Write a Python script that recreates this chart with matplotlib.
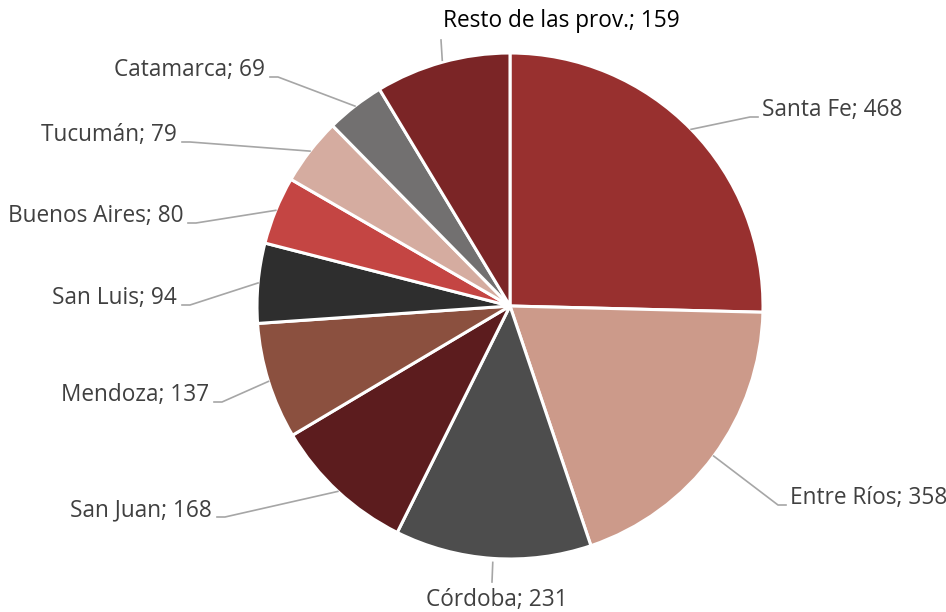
import matplotlib.pyplot as plt
import numpy as np

provinces = ['Santa Fe', 'Entre Ríos', 'Córdoba', 'San Juan', 'Mendoza',
             'San Luis', 'Buenos Aires', 'Tucumán', 'Catamarca',
             'Resto de las prov.']
counts = [468, 358, 231, 168, 137, 94, 80, 79, 69, 159]
colors = ['#98302F', '#CC9A8A', '#4D4D4D', '#5C1C1E', '#8B503F',
          '#2E2E2E', '#C44543', '#D5ACA0', '#727070', '#7B2526']

# label elbow points (pixels, y from top) and text side
label_pos = [(750, 117, 'left'), (778, 505, 'left'), (492, 582, 'below'),
             (225, 517, 'right'), (222, 402, 'right'), (190, 305, 'right'),
             (196, 223, 'right'), (190, 142, 'right'), (278, 77, 'right'),
             (441, 40, 'above')]

W, H = 946, 612
plt.rcParams['font.family'] = ['Open Sans', 'DejaVu Sans']
fs = 16.3

fig = plt.figure(figsize=(W / 100, H / 100), dpi=100)
ax = fig.add_axes([0, 0, 1, 1])
ax.axis('off')

cx, cy, r = 510, H - 306, 253
wedges, _ = ax.pie(counts, colors=colors, startangle=90, counterclock=False,
                   center=(cx, cy), radius=r,
                   wedgeprops=dict(edgecolor='white', linewidth=2.2))
ax.set_xlim(0, W)
ax.set_ylim(0, H)
ax.set_aspect('equal')

line_c = '#A6A6A6'
for w, name, val, (lx, ly, side) in zip(wedges, provinces, counts, label_pos):
    ang = np.deg2rad((w.theta1 + w.theta2) / 2)
    ex, ey = cx + r * np.cos(ang), cy + r * np.sin(ang)
    ly = H - ly
    txt = f'{name}; {val}'
    col = '#404040'
    if side == 'left':
        ax.plot([ex, lx, lx + 8], [ey, ly, ly], color=line_c, lw=1.2)
        ax.text(lx + 12, ly + 7, txt, ha='left', va='center', fontsize=fs, color=col)
    elif side == 'right':
        ax.plot([ex, lx, lx - 8], [ey, ly, ly], color=line_c, lw=1.2)
        ax.text(lx - 13, ly + 7, txt, ha='right', va='center', fontsize=fs, color=col)
    elif side == 'below':
        ax.plot([ex, lx], [ey - 4, ly], color=line_c, lw=1.2)
        ax.text(lx + 5, ly - 18, txt, ha='center', va='center', fontsize=fs, color=col)
    else:
        ax.plot([ex, lx], [ey + 2, ly], color=line_c, lw=1.2)
        ax.text(lx + 2, ly + 19, txt, ha='left', va='center', fontsize=fs, color='#000000')

fig.savefig('out.png', dpi=100)
